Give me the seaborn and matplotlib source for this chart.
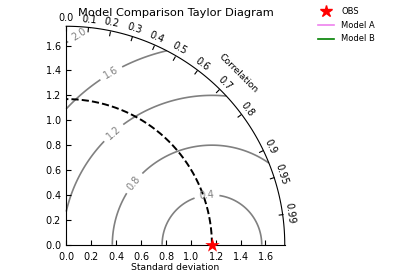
import numpy as np
import matplotlib
matplotlib.use("Agg")
import matplotlib.pyplot as plt
import seaborn as sns
from matplotlib.lines import Line2D
from matplotlib.projections import PolarAxes
import mpl_toolkits.axisartist.floating_axes as FA
import mpl_toolkits.axisartist.grid_finder as GF

# ---- data ----
title = "Model Comparison Taylor Diagram"
ref_label = "OBS"
ref_std = 1.17
std_range = (0.0, 1.5)          # relative to ref_std
corr_ticks = [0.0, 0.1, 0.2, 0.3, 0.4, 0.5, 0.6, 0.7, 0.8, 0.9, 0.95, 0.99]
rms_levels = [0.4, 0.8, 1.2, 1.6, 2.0]
model_names = ["Model A", "Model B"]
model_colors = ["violet", "green"]

plt.rcParams["font.family"] = ["DejaVu Sans"]
plt.rcParams["font.size"] = 7

fig = plt.figure(figsize=(4, 2.8), dpi=100)

tr = PolarAxes.PolarTransform(apply_theta_transforms=False)
tlocs = np.arccos(corr_ticks)
gl1 = GF.FixedLocator(tlocs)
tf1 = GF.DictFormatter(dict(zip(tlocs, map(str, corr_ticks))))
smin = std_range[0] * ref_std
smax = std_range[1] * ref_std
tmax = np.pi / 2

ghelper = FA.GridHelperCurveLinear(tr, extremes=(0, tmax, smin, smax),
                                   grid_locator1=gl1, tick_formatter1=tf1)
ax = FA.FloatingAxes(fig, [0.16, 0.118, 0.5575, 0.796], grid_helper=ghelper)
fig.add_axes(ax)

ax.axis["top"].set_axis_direction("bottom")
ax.axis["top"].toggle(ticklabels=True, label=True)
ax.axis["top"].major_ticklabels.set_axis_direction("top")
ax.axis["top"].label.set_axis_direction("top")
ax.axis["top"].label.set_text("Correlation")

ax.axis["left"].set_axis_direction("bottom")
ax.axis["left"].label.set_text("Standard deviation")
ax.axis["left"].label.set_pad(1)

ax.axis["right"].set_axis_direction("top")
ax.axis["right"].toggle(ticklabels=True)
ax.axis["right"].major_ticklabels.set_axis_direction("left")
ax.axis["bottom"].set_visible(False)

for k in ["top", "left", "right"]:
    ax.axis[k].major_ticklabels.set_fontsize(7)
    ax.axis[k].label.set_fontsize(6.7)

ax.set_title(title, fontsize=8.2)

aux = ax.get_aux_axes(tr)

# RMS contours
rs, ts = np.meshgrid(np.linspace(smin, smax, 200), np.linspace(0, tmax, 200))
rms = np.sqrt(ref_std ** 2 + rs ** 2 - 2 * ref_std * rs * np.cos(ts))
cs = aux.contour(ts, rs, rms, rms_levels, colors="0.5", linewidths=1.2)
lab_xy = [(1.13, 0.39), (0.54, 0.50), (0.38, 0.90), (0.36, 1.38), (0.10, 1.69)]
manual = [(np.arctan2(y, x), np.hypot(x, y)) for x, y in lab_xy]
aux.clabel(cs, inline=True, fontsize=7, fmt="%.1f", manual=manual)

# reference std arc
t = np.linspace(0, tmax, 200)
sns.lineplot(x=t, y=np.full_like(t, ref_std), ax=aux, color="k", linestyle="--",
             linewidth=1.4, legend=False, sort=False, estimator=None)

# reference point
sns.scatterplot(x=[0.0], y=[ref_std], ax=aux, marker="*", s=120, color="red",
                edgecolor="red", linewidth=0, legend=False, zorder=5, clip_on=False)

handles = [Line2D([], [], marker="*", color="red", ls="", ms=9)]
handles += [Line2D([], [], color=c, lw=1.2) for c in model_colors]
fig.legend(handles, [ref_label] + model_names, loc="upper left",
           bbox_to_anchor=(0.786, 0.986), frameon=False, fontsize=6,
           borderaxespad=0, labelspacing=0.55)

fig.savefig("out.png", dpi=100)
